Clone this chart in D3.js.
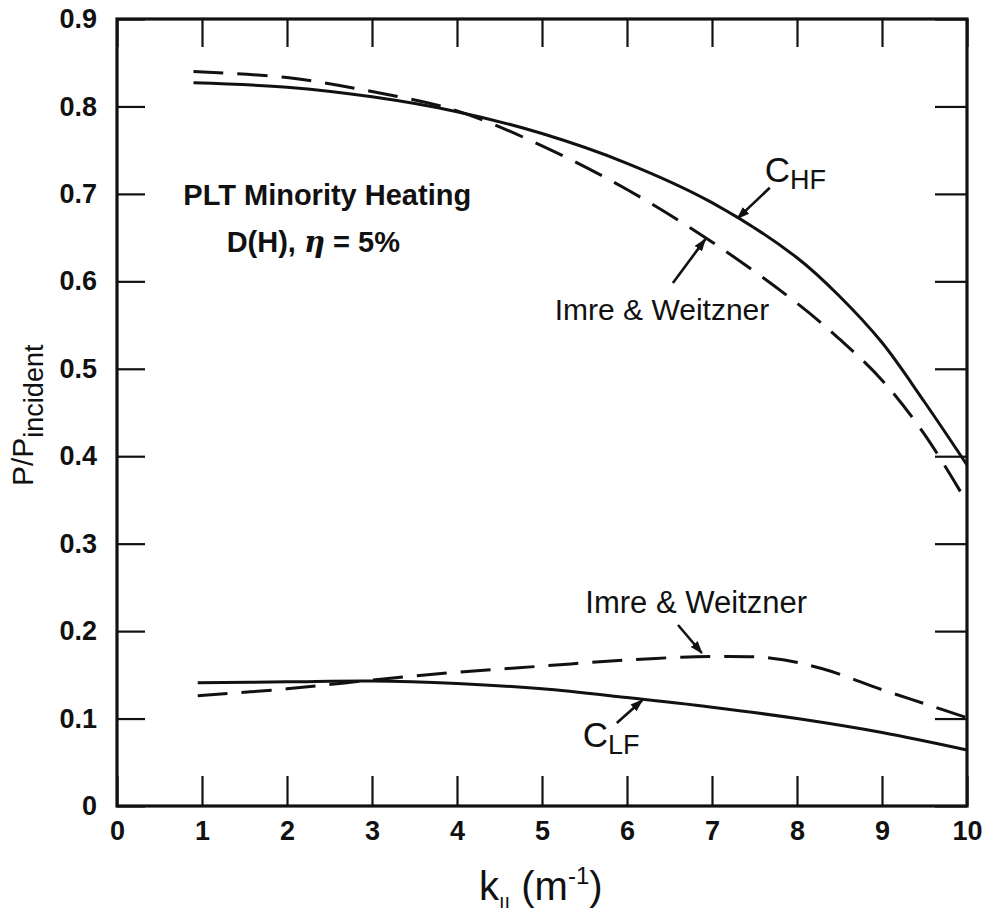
<!DOCTYPE html>
<html lang="en">
<head>
<meta charset="UTF-8">
<title>PLT Minority Heating</title>
<script src="https://d3js.org/d3.v7.min.js"></script>
<style>
  * { margin: 0; padding: 0; box-sizing: border-box; }
  body { background: #ffffff; }
  svg { display: block; font-family: "Liberation Sans", Arial, sans-serif; }
  .tick text { font-size: 27px; font-weight: bold; fill: #111; }
  .tick line { stroke: #111; stroke-width: 2.2px; }
  .curve { fill: none; stroke: #111; stroke-width: 3px; }
  .curve.dashed { stroke-dasharray: 30 14; }
  .note { fill: #111; }
</style>
</head>
<body>
<svg></svg>
<script>
// values (k in m^-1, P/P_incident)
const kHF = [0.9, 2, 3, 4, 5, 6, 7, 8, 8.5, 9, 9.5, 10];
const cHF = [0.827, 0.822, 0.811, 0.794, 0.769, 0.735, 0.690, 0.627, 0.583, 0.530, 0.462, 0.390];

const kIWhigh = [0.9, 2, 3, 4, 5, 6, 7, 8, 8.5, 9, 9.5, 10];
const iwHigh  = [0.840, 0.833, 0.817, 0.795, 0.755, 0.705, 0.645, 0.575, 0.534, 0.487, 0.425, 0.347];

const kLF = [0.95, 2, 3, 4, 5, 6, 7, 8, 9, 10];
const cLF = [0.141, 0.142, 0.143, 0.140, 0.134, 0.124, 0.113, 0.100, 0.084, 0.064];

const kIWlow = [0.95, 2, 3, 4, 5, 6, 7, 7.7, 8.3, 9, 9.5, 10];
const iwLow  = [0.126, 0.134, 0.144, 0.153, 0.160, 0.167, 0.171, 0.169, 0.157, 0.133, 0.117, 0.101];

const xTicks = [0, 1, 2, 3, 4, 5, 6, 7, 8, 9, 10];
const yTicks = [0, 0.1, 0.2, 0.3, 0.4, 0.5, 0.6, 0.7, 0.8, 0.9];

const W = 995, H = 920;
const margin = { top: 19, right: 28, bottom: 114, left: 117 };
const iw = W - margin.left - margin.right;
const ih = H - margin.top - margin.bottom;

const svg = d3.select("svg").attr("width", W).attr("height", H);
const g = svg.append("g").attr("transform", `translate(${margin.left},${margin.top})`);

const x = d3.scaleLinear().domain([0, 10]).range([0, iw]);
const y = d3.scaleLinear().domain([0, 0.9]).range([ih, 0]);

// axes: inward ticks on all four sides, labels only bottom/left
const axBottom = g.append("g").attr("transform", `translate(0,${ih})`)
  .call(d3.axisBottom(x).tickValues(xTicks).tickSizeInner(-30).tickSizeOuter(0).tickPadding(15)
    .tickFormat(d3.format("d")));
const axLeft = g.append("g")
  .call(d3.axisLeft(y).tickValues(yTicks).tickSizeInner(-28).tickSizeOuter(0).tickPadding(20)
    .tickFormat(d => d === 0 ? "0" : d3.format(".1f")(d)));
const axTop = g.append("g")
  .call(d3.axisTop(x).tickValues(xTicks).tickSizeInner(-28).tickSizeOuter(0).tickFormat(""));
const axRight = g.append("g").attr("transform", `translate(${iw},0)`)
  .call(d3.axisRight(y).tickValues(yTicks).tickSizeInner(-32).tickSizeOuter(0).tickFormat(""));
[axBottom, axLeft, axTop, axRight].forEach(a => a.select(".domain").remove());
axBottom.selectAll(".tick text").attr("dy", "0.71em");

g.append("rect").attr("x", 0).attr("y", 0).attr("width", iw).attr("height", ih)
  .attr("fill", "none").attr("stroke", "#111").attr("stroke-width", 3.2);

// curves
const line = d3.line().x(d => x(d[0])).y(d => y(d[1])).curve(d3.curveCatmullRom.alpha(0.5));
const series = [
  { k: kHF, v: cHF, dashed: false },
  { k: kIWhigh, v: iwHigh, dashed: true },
  { k: kLF, v: cLF, dashed: false },
  { k: kIWlow, v: iwLow, dashed: true }
];
series.forEach(s => {
  g.append("path")
    .attr("class", s.dashed ? "curve dashed" : "curve")
    .attr("d", line(d3.zip(s.k, s.v)));
});

// arrows (tail -> head, data coords)
svg.append("defs").append("marker")
  .attr("id", "head").attr("viewBox", "0 0 10 10").attr("refX", 9).attr("refY", 5)
  .attr("markerWidth", 5).attr("markerHeight", 5).attr("markerUnits", "strokeWidth")
  .attr("orient", "auto")
  .append("path").attr("d", "M0,1.5 L10,5 L0,8.5 Z").attr("fill", "#111");

const arrows = [
  [[7.68, 0.707], [7.30, 0.672]],
  [[6.54, 0.598], [6.92, 0.648]],
  [[6.60, 0.207], [6.88, 0.175]],
  [[5.88, 0.095], [6.18, 0.121]]
];
arrows.forEach(([a, b]) => {
  g.append("line")
    .attr("x1", x(a[0])).attr("y1", y(a[1])).attr("x2", x(b[0])).attr("y2", y(b[1]))
    .attr("stroke", "#111").attr("stroke-width", 2.6).attr("marker-end", "url(#head)");
});

// annotations
g.append("text").attr("class", "note").attr("x", x(0.78)).attr("y", y(0.687))
  .attr("font-size", 29).attr("font-weight", "bold").text("PLT Minority Heating");
const dh = g.append("text").attr("class", "note").attr("x", x(1.29)).attr("y", y(0.634))
  .attr("font-size", 29).attr("font-weight", "bold");
dh.append("tspan").text("D(H),  ");
dh.append("tspan").attr("font-style", "italic").attr("font-family", "DejaVu Serif").text("η");
dh.append("tspan").text(" = 5%");

function subLabel(k, v, main, sub) {
  const t = g.append("text").attr("class", "note").attr("x", x(k)).attr("y", y(v)).attr("font-size", 35);
  t.append("tspan").text(main);
  t.append("tspan").attr("font-size", 27).attr("dy", 7).text(sub);
}
subLabel(7.62, 0.714, "C", "HF");
subLabel(5.48, 0.068, "C", "LF");

g.append("text").attr("class", "note").attr("x", x(5.15)).attr("y", y(0.556))
  .attr("font-size", 30).text("Imre & Weitzner");
g.append("text").attr("class", "note").attr("x", x(5.51)).attr("y", y(0.221))
  .attr("font-size", 31).text("Imre & Weitzner");

// axis titles
const xt = svg.append("text").attr("class", "note").attr("x", 479).attr("y", 900).attr("font-size", 40);
xt.append("tspan").text("k");
xt.append("tspan").attr("font-size", 20).attr("dy", 8).text("ıı");
xt.append("tspan").attr("dy", -8).text(" (m");
xt.append("tspan").attr("font-size", 24).attr("dy", -16).text("-1");
xt.append("tspan").attr("dy", 16).text(")");

const yt = svg.append("text").attr("class", "note")
  .attr("transform", "translate(33,486) rotate(-90)").attr("font-size", 30);
yt.append("tspan").text("P/P");
yt.append("tspan").attr("font-size", 27).attr("dy", 10).text("incident");
</script>
</body>
</html>
